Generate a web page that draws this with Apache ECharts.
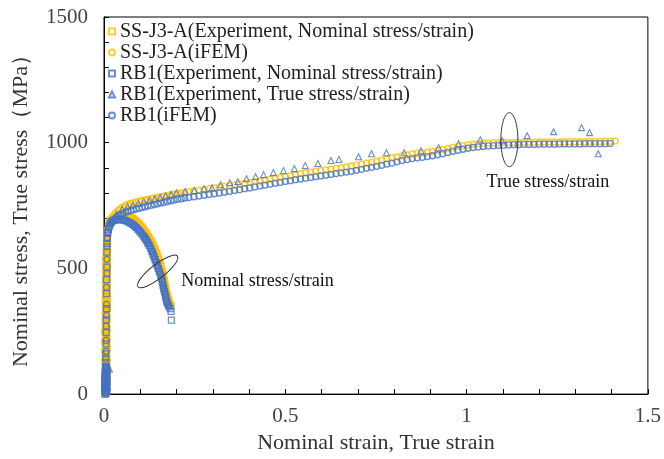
<!DOCTYPE html>
<html>
<head>
<meta charset="utf-8">
<script src="https://cdn.jsdelivr.net/npm/echarts@6/dist/echarts.min.js"></script>
<style>
  html, body { margin: 0; padding: 0; background: #ffffff; }
  #chart { width: 664px; height: 459px; }
</style>
</head>
<body>
<div id="chart"></div>
<script>
// ---- Series data: [strain, stress (MPa)] ----

// SS-J3-A, experiment, nominal stress/strain
const ssExpNominal = [
  [0.003,0],[0.006,10],[0.003,20],[0.008,30],[0.005,40],[0.003,50],[0.008,60],[0.005,70],[0.006,80],[0.003,90],
  [0.008,100],[0.005,110],[0.006,120],[0.003,130],[0.008,140],[0.005,150],[0.006,160],[0.003,170],[0.008,180],
  [0.005,190],[0.006,200],[0.003,210],[0.008,220],[0.005,230],[0.006,240],[0.003,250],[0.008,260],[0.005,270],
  [0.006,280],[0.004,290],[0.008,300],[0.005,310],[0.006,320],[0.004,330],[0.009,340],[0.005,350],[0.007,360],
  [0.004,370],[0.009,380],[0.006,390],[0.007,400],[0.004,410],[0.009,420],[0.006,430],[0.007,440],[0.004,450],
  [0.009,460],[0.006,470],[0.007,480],[0.005,490],[0.009,500],[0.006,510],[0.008,520],[0.005,530],[0.009,540],
  [0.006,550],[0.009,560],[0.007,570],[0.009,580],[0.007,590],[0.009,600],
  [0.008,615],[0.009,632],[0.010,650],[0.012,665],[0.014,678],[0.017,688],[0.020,695],[0.025,700],[0.030,704],
  [0.036,707],[0.042,709],[0.048,710],[0.054,710],[0.060,709],[0.066,707],[0.072,704],[0.078,700],[0.083,695],
  [0.088,689],[0.093,683],[0.098,675],[0.103,667],[0.108,658],[0.113,648],[0.118,637],[0.123,626],[0.128,614],
  [0.133,601],[0.137,589],[0.141,576],[0.145,562],[0.148,548],[0.151,535],[0.154,521],[0.157,507],[0.160,492],
  [0.162,478],[0.164,465],[0.166,451],[0.168,437],[0.170,423],[0.172,409],[0.174,396],[0.176,384],[0.178,373],
  [0.180,364],[0.184,352]
];

// SS-J3-A, iFEM (nominal and true branches)
const ssIfem = [
  [0.005,5],[0.008,15],[0.004,25],[0.006,35],[0.003,45],[0.008,55],[0.005,65],[0.006,75],[0.003,85],[0.008,95],
  [0.005,105],[0.007,115],[0.003,125],[0.008,135],[0.005,145],[0.007,155],[0.003,165],[0.008,175],[0.005,185],
  [0.007,195],[0.003,205],[0.008,215],[0.005,225],[0.007,235],[0.003,245],[0.008,255],[0.005,265],[0.007,275],
  [0.004,285],[0.008,295],[0.005,305],[0.007,315],[0.004,325],[0.008,335],[0.005,345],[0.009,355],[0.006,365],
  [0.008,375],[0.004,385],[0.009,395],[0.006,405],[0.008,415],[0.004,425],[0.009,435],[0.006,445],[0.008,455],
  [0.005,465],[0.009,475],[0.006,485],[0.008,495],[0.005,505],[0.009,515],[0.006,525],[0.009,535],[0.007,545],
  [0.009,555],[0.007,565],[0.010,575],[0.007,585],[0.010,595],[0.009,612],[0.010,628],
  // true branch
  [0.011,645],[0.013,664],[0.016,680],[0.020,694],[0.024,705],[0.029,715],[0.034,723],[0.040,731],[0.046,738],
  [0.052,744],[0.059,750],[0.066,754],[0.073,758],[0.080,761],[0.088,764],[0.096,767],[0.104,769],[0.112,772],
  [0.120,774],[0.129,777],[0.138,779],[0.147,782],[0.156,785],[0.165,787],[0.174,790],[0.183,793],[0.192,795],
  [0.202,798],[0.212,800],[0.222,802],
  [0.234,805],[0.248,808],[0.262,811],[0.276,814],[0.290,817],[0.304,820],[0.318,823],[0.332,826],[0.346,829],
  [0.360,832],[0.374,835],[0.388,838],[0.402,842],[0.416,845],[0.430,848],[0.444,851],[0.458,855],[0.472,859],
  [0.486,862],[0.500,866],[0.514,869],[0.528,873],[0.542,876],[0.556,879],[0.570,882],[0.584,886],[0.598,889],
  [0.612,891],[0.626,894],[0.640,897],[0.654,900],[0.668,903],[0.682,907],[0.696,910],[0.710,914],[0.724,918],
  [0.738,922],[0.752,926],[0.766,930],[0.780,935],[0.794,939],[0.808,943],[0.822,947],[0.836,951],[0.850,955],
  [0.864,958],[0.878,960],[0.892,962],[0.906,965],[0.920,969],[0.934,973],[0.948,977],[0.962,981],[0.976,985],
  [0.990,988],[1.004,991],[1.018,994],[1.032,996],[1.046,998],[1.060,999],[1.074,1000],[1.088,1000],[1.102,1001],
  [1.116,1001],[1.130,1001],[1.144,1002],[1.158,1002],[1.172,1002],[1.186,1002],[1.200,1003],[1.214,1003],
  [1.228,1003],[1.242,1003],[1.256,1003],[1.270,1004],[1.284,1004],[1.298,1004],[1.312,1004],[1.326,1004],
  [1.340,1005],[1.354,1005],[1.368,1005],[1.382,1006],[1.396,1006],[1.410,1007],
  // nominal branch
  [0.021,697],[0.027,702],[0.034,706],[0.041,708],[0.048,709],[0.055,709],[0.062,707],[0.069,704],[0.075,701],
  [0.081,697],[0.086,692],[0.091,686],[0.096,679],[0.101,671],[0.106,662],[0.111,653],[0.116,643],[0.121,632],
  [0.126,620],[0.131,607],[0.135,595],[0.139,582],[0.143,569],[0.146,555],[0.150,541],[0.153,527],[0.156,513],
  [0.159,499],[0.161,485],[0.163,471],[0.165,458],[0.167,444],[0.169,430],[0.171,416],[0.173,402],[0.175,390],
  [0.177,378],[0.179,368],[0.182,360],[0.185,354]
];

// RB1, experiment, nominal stress/strain
const rbExpNominal = [
  [0.003,0],[0.006,4],[0.003,8],[0.008,12],[0.005,16],[0.002,20],[0.007,24],[0.004,28],[0.008,32],[0.005,36],
  [0.002,40],[0.007,44],[0.004,48],[0.008,52],[0.005,56],[0.002,60],[0.007,64],[0.004,68],[0.008,72],[0.005,76],
  [0.003,80],[0.007,84],[0.004,88],[0.008,92],[0.005,96],[0.007,100],[0.004,104],[0.007,108],
  [0.005,125],[0.005,160],[0.006,200],[0.006,245],[0.006,295],[0.007,340],[0.007,400],[0.007,455],[0.008,505],
  [0.008,565],[0.008,600],
  [0.009,620],[0.010,640],[0.012,655],[0.014,668],[0.017,678],[0.020,685],[0.025,690],[0.031,693],[0.037,694],
  [0.043,695],[0.049,694],[0.055,692],[0.061,689],[0.067,685],[0.073,680],[0.079,675],[0.084,669],[0.089,662],
  [0.094,654],[0.099,646],[0.104,637],[0.109,628],[0.113,620],[0.117,612],[0.121,601],[0.125,591],[0.129,580],
  [0.132,568],[0.135,557],[0.138,546],[0.141,535],[0.144,523],[0.147,511],[0.150,499],[0.153,486],[0.156,473],
  [0.159,459],[0.161,446],[0.163,432],[0.165,419],[0.167,407],[0.169,395],[0.171,382],[0.173,370],[0.175,360],
  [0.178,350],[0.182,340],[0.185,329],[0.186,294]
];

// RB1, experiment, true stress/strain
const rbExpTrue = [
  [0.004,10],[0.005,30],[0.005,50],[0.006,70],[0.006,90],[0.015,100],
  [0.020,690],[0.035,715],[0.050,735],[0.065,745],[0.080,752],[0.095,758],[0.110,764],[0.125,770],[0.140,776],
  [0.155,782],[0.170,788],[0.185,794],[0.200,800],
  [0.224,806],[0.249,810],[0.276,817],[0.298,821],[0.322,833],[0.347,841],[0.369,845],[0.393,857],[0.418,865],
  [0.440,873],[0.467,881],[0.495,889],[0.525,897],[0.555,909],[0.590,917],[0.626,929],[0.648,933],[0.702,944],
  [0.738,956],[0.779,960],[0.828,960],[0.874,968],[0.923,980],[0.978,996],[1.038,1012],[1.098,1008],
  [1.167,1028],[1.240,1044],[1.317,1060],[1.339,1040],[1.363,956]
];

// RB1, iFEM (nominal and true branches)
const rbIfem = [
  [0.005,2],[0.002,10],[0.008,18],[0.004,26],[0.006,34],[0.002,42],[0.008,50],[0.005,58],[0.003,66],[0.007,74],
  [0.004,82],[0.008,90],[0.005,98],[0.007,106],[0.005,112],
  [0.005,143],[0.006,170],[0.006,214],[0.006,270],[0.007,313],[0.007,357],[0.007,425],[0.008,480],[0.008,536],
  [0.008,587],[0.009,620],[0.010,640],
  // true branch
  [0.011,645],[0.014,660],[0.017,672],[0.021,682],[0.025,690],[0.030,698],[0.035,704],[0.041,710],[0.047,715],
  [0.053,719],[0.060,723],[0.067,727],[0.074,730],[0.081,733],[0.089,736],[0.097,739],[0.105,742],[0.113,745],
  [0.121,748],[0.130,751],[0.139,754],[0.148,757],[0.157,760],[0.166,763],[0.175,766],[0.184,769],[0.193,772],
  [0.203,775],[0.213,777],[0.223,780],
  [0.234,782],[0.248,785],[0.262,788],[0.276,791],[0.290,794],[0.304,797],[0.318,800],[0.332,803],[0.346,806],
  [0.360,810],[0.374,813],[0.388,817],[0.402,820],[0.416,824],[0.430,828],[0.444,831],[0.458,835],[0.472,839],
  [0.486,842],[0.500,846],[0.514,849],[0.528,853],[0.542,856],[0.556,859],[0.570,862],[0.584,865],[0.598,868],
  [0.612,871],[0.626,874],[0.640,877],[0.654,880],[0.668,883],[0.682,886],[0.696,890],[0.710,894],[0.724,898],
  [0.738,902],[0.752,906],[0.766,910],[0.780,915],[0.794,919],[0.808,924],[0.822,929],[0.836,933],[0.850,937],
  [0.864,940],[0.878,942],[0.892,945],[0.906,948],[0.920,952],[0.934,956],[0.948,961],[0.962,966],[0.976,970],
  [0.990,974],[1.004,978],[1.018,981],[1.032,983],[1.046,985],[1.060,987],[1.074,988],[1.088,989],[1.102,990],
  [1.116,991],[1.130,992],[1.144,992],[1.158,993],[1.172,993],[1.186,993],[1.200,994],[1.214,994],[1.228,994],
  [1.242,994],[1.256,995],[1.270,995],[1.284,995],[1.298,995],[1.312,995],[1.326,996],[1.340,996],[1.354,996],
  [1.368,996],[1.382,996],[1.396,997],
  // nominal branch
  [0.021,686],[0.027,690],[0.034,693],[0.041,694],[0.048,694],[0.055,692],[0.062,689],[0.069,684],[0.075,679],
  [0.081,673],[0.086,667],[0.091,660],[0.096,652],[0.101,644],[0.106,635],[0.111,626],[0.115,617],[0.119,607],
  [0.123,597],[0.127,586],[0.131,574],[0.134,563],[0.137,552],[0.140,540],[0.143,528],[0.146,516],[0.149,504],
  [0.152,491],[0.155,478],[0.158,465],[0.160,452],[0.162,438],[0.164,425],[0.166,412],[0.168,400],[0.170,388],
  [0.172,376],[0.174,365],[0.177,355],[0.180,346]
];

// Series names shown in the legend
const seriesNames = [
  'SS-J3-A(Experiment, Nominal stress/strain)',
  'SS-J3-A(iFEM)',
  'RB1(Experiment, Nominal stress/strain)',
  'RB1(Experiment, True stress/strain)',
  'RB1(iFEM)'
];

// Callout loops around the curve groups (centre in data units) and their captions
const loopCentres = [[0.148, 488], [1.118, 1012]];
const captionAnchors = [[0.213, 448], [1.055, 841]];
const captionTexts = ['Nominal stress/strain', 'True stress/strain'];

// ---- Drawing ----
const YELLOW = '#FFC000';
const BLUE = '#4472C4';
const SERIF = '"Liberation Serif", "Times New Roman", serif';
const loopShapes = [
  { rx: 25, ry: 7, rot: 0.66 },
  { rx: 8.5, ry: 27, rot: 0 }
];

function hollow(name, data, symbol, color, size, width) {
  return {
    name, type: 'scatter', data, symbol, symbolSize: size,
    itemStyle: { color: 'transparent', borderColor: color, borderWidth: width },
    emphasis: { disabled: true }, silent: true
  };
}

const axisFont = { fontFamily: SERIF, fontSize: 21, color: '#444' };

const chart = echarts.init(document.getElementById('chart'), null, { renderer: 'canvas' });

chart.setOption({
  animation: false,
  backgroundColor: '#ffffff',
  grid: { left: 104, right: 11, top: 17, bottom: 64, show: true, borderColor: '#000', borderWidth: 1, backgroundColor: 'transparent' },
  legend: {
    data: seriesNames,
    orient: 'vertical',
    left: 108, top: 21, padding: 0,
    itemWidth: 6, itemHeight: 6, itemGap: 0,
    textStyle: { fontFamily: SERIF, fontSize: 20, color: '#222', lineHeight: 21 },
    selectedMode: false
  },
  xAxis: {
    type: 'value', min: 0, max: 1.5, interval: 0.5,
    name: 'Nominal strain, True strain', nameLocation: 'middle', nameGap: 32,
    nameTextStyle: { fontFamily: SERIF, fontSize: 22, color: '#333' },
    axisLine: { show: true, onZero: false, lineStyle: { color: '#000', width: 1 } },
    axisTick: { show: true, inside: true, length: 5, lineStyle: { color: '#000' } },
    minorTick: { show: true, splitNumber: 5, length: 5, lineStyle: { color: '#000' } },
    axisLabel: Object.assign({ margin: 12, formatter: v => String(v) }, axisFont),
    splitLine: { show: false }
  },
  yAxis: {
    type: 'value', min: 0, max: 1500, interval: 500,
    name: 'Nominal stress, True stress（MPa）', nameLocation: 'middle', nameGap: 72,
    nameTextStyle: { fontFamily: SERIF, fontSize: 22, color: '#333' },
    axisLine: { show: true, onZero: false, lineStyle: { color: '#000', width: 1 } },
    axisTick: { show: true, inside: true, length: 5, lineStyle: { color: '#000' } },
    minorTick: { show: true, splitNumber: 5, length: 5, lineStyle: { color: '#000' } },
    axisLabel: Object.assign({ margin: 16, formatter: v => String(v) }, axisFont),
    splitLine: { show: false }
  },
  series: [
    hollow(seriesNames[0], ssExpNominal, 'rect', YELLOW, 6, 1.5),
    hollow(seriesNames[1], ssIfem, 'circle', YELLOW, 6, 1.5),
    hollow(seriesNames[2], rbExpNominal, 'rect', BLUE, 6, 1.3),
    hollow(seriesNames[3], rbExpTrue, 'triangle', BLUE, 6, 1.1),
    hollow(seriesNames[4], rbIfem, 'circle', BLUE, 6, 1.3),
    {
      type: 'custom', name: 'loops', data: loopCentres, clip: false, silent: true, z: 5,
      renderItem(params, api) {
        const c = api.coord([api.value(0), api.value(1)]);
        const s = loopShapes[params.dataIndex];
        return {
          type: 'ellipse', x: c[0], y: c[1], rotation: s.rot,
          shape: { cx: 0, cy: 0, rx: s.rx, ry: s.ry },
          style: { fill: 'none', stroke: '#333', lineWidth: 1 }
        };
      }
    },
    {
      type: 'custom', name: 'captions', data: captionAnchors, clip: false, silent: true, z: 5,
      renderItem(params, api) {
        const c = api.coord([api.value(0), api.value(1)]);
        return {
          type: 'text', x: c[0], y: c[1],
          style: {
            text: captionTexts[params.dataIndex],
            fontFamily: SERIF, fontSize: 18, fill: '#111',
            align: 'left', verticalAlign: 'middle',
            textAlign: 'left', textVerticalAlign: 'middle'
          }
        };
      }
    }
  ]
});
</script>
</body>
</html>
